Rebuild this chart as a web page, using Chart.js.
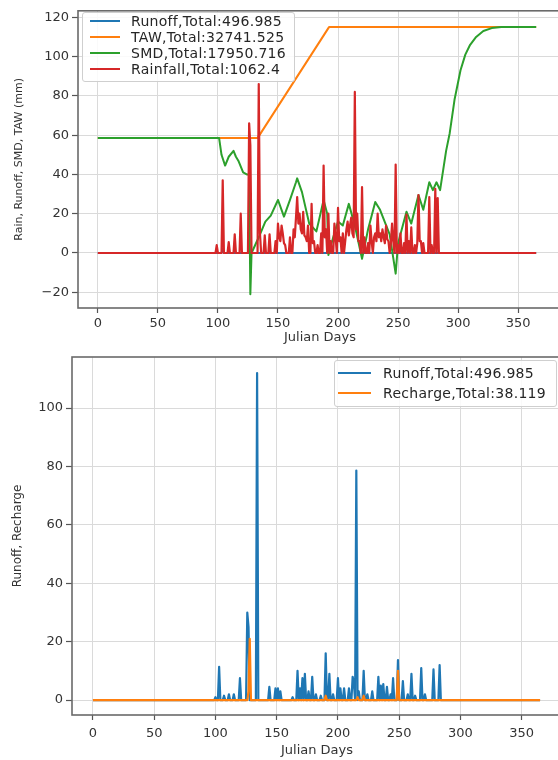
<!DOCTYPE html>
<html lang="en">
<head>
    <meta charset="UTF-8">
    <title>Soil Water Balance</title>
    <script src="https://cdn.jsdelivr.net/npm/chart.js"></script>
    <style>
        body {
            margin: 0;
            background: #fff;
            overflow: hidden;
            font-family: 'DejaVu Sans', sans-serif;
        }
        .panel {
            position: absolute;
            left: 0;
            width: 564px;
        }
        #topPanel { top: 0; height: 345px; }
        #bottomPanel { top: 345px; height: 415px; }
        .legend {
            position: absolute;
            border: 1px solid #cfcfcf;
            border-radius: 3px;
            background: rgba(255, 255, 255, 0.85);
            font-size: 14px;
            letter-spacing: 0.3px;
            color: #262626;
        }
        .legend .row {
            position: absolute;
            left: 0;
            height: 16px;
            line-height: 16px;
            white-space: nowrap;
        }
        .legend .ln {
            position: absolute;
            top: 7px;
            height: 2px;
        }
        .legend .tx { position: absolute; top: 0; }
    </style>
</head>
<body>

<div class="panel" id="topPanel"><canvas id="topChart"></canvas></div>
<div class="panel" id="bottomPanel"><canvas id="bottomChart"></canvas></div>

<div class="legend" style="left:82px; top:12px; width:211px; height:68px;">
    <div class="row" style="top:0px;"><span class="ln" style="left:7px; width:30px; background:#1f77b4;"></span><span class="tx" style="left:48px;">Runoff,Total:496.985</span></div>
    <div class="row" style="top:16px;"><span class="ln" style="left:7px; width:30px; background:#ff7f0e;"></span><span class="tx" style="left:48px;">TAW,Total:32741.525</span></div>
    <div class="row" style="top:32px;"><span class="ln" style="left:7px; width:30px; background:#2ca02c;"></span><span class="tx" style="left:48px;">SMD,Total:17950.716</span></div>
    <div class="row" style="top:48px;"><span class="ln" style="left:7px; width:30px; background:#d62728;"></span><span class="tx" style="left:48px;">Rainfall,Total:1062.4</span></div>
</div>

<div class="legend" style="left:334px; top:360px; width:221px; height:45px;">
    <div class="row" style="top:4px;"><span class="ln" style="left:3px; width:33px; background:#1f77b4;"></span><span class="tx" style="left:48px;">Runoff,Total:496.985</span></div>
    <div class="row" style="top:24px;"><span class="ln" style="left:3px; width:33px; background:#ff7f0e;"></span><span class="tx" style="left:48px;">Recharge,Total:38.119</span></div>
</div>

<script>
    // ---- data ----
    const xTicks = [0, 50, 100, 150, 200, 250, 300, 350];
    const topYTicks = [-20, 0, 20, 40, 60, 80, 100, 120];
    const bottomYTicks = [0, 20, 40, 60, 80, 100];

    // daily rainfall (mm), days not listed are dry
    const rainDays = [99, 104, 109, 114, 119, 126, 127, 134, 135, 139, 143, 148, 150, 151, 152, 153, 154, 155, 156, 160, 163, 164, 165, 166, 167, 168, 169, 170, 171, 172, 173, 174, 175, 178, 179, 180, 183, 186, 188, 189, 190, 192, 194, 197, 198, 200, 201, 202, 204, 206, 207, 208, 209, 210, 211, 212, 213, 214, 215, 216, 217, 218, 220, 222, 225, 227, 228, 230, 231, 232, 233, 234, 235, 236, 237, 238, 239, 240, 241, 242, 244, 245, 246, 248, 250, 252, 255, 257, 259, 261, 264, 266, 267, 268, 269, 271, 276, 278, 281, 283];
    const rainMm = [4, 37, 5.5, 9.5, 20, 66, 55, 86, 10, 9, 9.5, 6, 15, 8, 6, 14, 10, 5, 4, 8, 12, 8, 18, 28.5, 15, 20, 12, 10, 21, 9, 8, 6, 14, 25, 5, 6, 4, 10, 44.5, 8, 12, 20, 6, 15, 8, 23, 6, 8, 10, 6, 12, 16, 9, 14, 18, 10, 8, 82, 12, 20, 6, 6, 33.5, 8, 5, 14, 6, 8, 10, 6, 20, 8, 10, 6, 12, 8, 5, 14, 7, 6, 5, 15, 6, 45, 4, 10, 5, 19.5, 6, 13, 4, 5, 29.5, 6, 6, 5, 28.5, 4, 32.7, 28];

    // runoff as seen in the upper panel
    const runoffTopDays = [0, 103, 104, 105, 365];
    const runoffTopMm = [0, 0, 2, 0, 0];

    // total available water
    const tawDays = [0, 133, 192.5, 365];
    const tawMm = [58.5, 58.5, 115, 115];

    // soil moisture deficit
    const smdDays = [0, 101, 103, 106, 109, 113, 115, 117, 121, 124, 126, 127, 128, 134, 139.5, 144, 150, 155, 160, 165, 166, 170, 176, 182, 188, 191, 192, 196, 200, 204, 209, 214, 220, 225, 231, 235, 243, 248, 250, 257, 261, 267, 271, 276, 279, 282, 285, 290, 293, 297, 302, 306, 310, 315, 321, 328, 336, 365];
    const smdMm = [58.5, 58.5, 50, 44.5, 49, 52, 49, 47, 41, 40, 40, -21, 0, 8, 16, 19, 27, 18.5, 27, 36, 38, 31, 15, 11, 27, 20, -1, 8, 16, 14, 25, 14, -3, 12, 26, 22, 9.5, -10.5, 5, 21, 15, 29.5, 22, 36, 32, 36, 32, 52, 61, 78, 93, 101, 106, 110, 113, 114.5, 115, 115];

    // lower panel: daily runoff and recharge (mm)
    const runoffDays = [100, 103, 107, 111, 115, 120, 126, 127, 134, 144, 149, 151, 153, 163, 167, 169, 171, 173, 176, 179, 182, 186, 190, 193, 196, 200, 202, 205, 209, 212, 213, 215, 217, 221, 224, 228, 233, 235, 237, 240, 243, 245, 249, 253, 257, 260, 263, 268, 271, 278, 283];
    const runoffMm = [1, 11.4, 1.5, 2, 2, 7.5, 30, 25, 112, 4.5, 4, 4, 3, 1, 10, 4, 7.5, 9, 3, 8, 2, 1.5, 16, 9, 2, 7.5, 4, 4, 4, 8, 6, 78.6, 3, 10, 2, 3, 8, 5, 5.5, 4.5, 2, 7.5, 13.7, 6.5, 2, 9, 1.5, 11, 2, 10.5, 12];
    const rechargeDays = [127, 128, 190, 216, 221, 249];
    const rechargeMm = [3, 21, 1.5, 1, 1.5, 10];

    function daily(days, vals) {
        const pts = [];
        for (let d = 0; d <= 365; d++) {
            const i = days.indexOf(d);
            pts.push({ x: d, y: i >= 0 ? vals[i] : 0 });
        }
        return pts;
    }

    function pairs(days, vals) {
        return days.map((d, i) => ({ x: d, y: vals[i] }));
    }

    function minusLabel(v) {
        return v < 0 ? '\u2212' + Math.abs(v) : String(v);
    }

    // matplotlib-like closed frame drawn over the lines
    const framePlugin = {
        id: 'frame',
        afterDatasetsDraw(chart) {
            const a = chart.chartArea;
            const ctx = chart.ctx;
            ctx.save();
            ctx.strokeStyle = '#6a6a6a';
            ctx.lineWidth = 1.6;
            ctx.strokeRect(a.left, a.top, a.right - a.left, a.bottom - a.top);
            ctx.restore();
        }
    };

    function lineSet(label, data, color, order, width) {
        return {
            label: label, data: data, borderColor: color, backgroundColor: color,
            borderWidth: width, borderJoinStyle: 'round', pointRadius: 0, tension: 0, fill: false, order: order
        };
    }

    function axes(opts) {
        return {
            x: {
                type: 'linear', min: opts.xMin, max: opts.xMax,
                afterBuildTicks: s => { s.ticks = xTicks.map(v => ({ value: v })); },
                afterFit: s => { s.height = opts.xH; },
                grid: { color: '#dadada', lineWidth: 1, tickLength: 5, tickColor: '#555', tickWidth: 1.2 },
                border: { display: false },
                ticks: { color: '#333', font: { family: 'DejaVu Sans', size: 13 }, padding: opts.xPad, maxRotation: 0, callback: minusLabel },
                title: { display: true, text: 'Julian Days', color: '#333', font: { family: 'DejaVu Sans', size: 13 }, padding: { top: 0, bottom: opts.xTitlePad } }
            },
            y: {
                type: 'linear', min: opts.yMin, max: opts.yMax,
                afterBuildTicks: s => { s.ticks = opts.yTicks.map(v => ({ value: v })); },
                afterFit: s => { s.width = opts.yW; },
                grid: { color: '#dadada', lineWidth: 1, tickLength: 6, tickColor: '#555', tickWidth: 1.2 },
                border: { display: false },
                ticks: { color: '#333', font: { family: 'DejaVu Sans', size: 13 }, padding: 3, callback: minusLabel },
                title: { display: true, text: opts.yTitle, color: '#333', font: { family: 'DejaVu Sans', size: opts.yTitleSize }, padding: { top: opts.yTitlePad, bottom: 0 } }
            }
        };
    }

    const common = {
        responsive: true,
        maintainAspectRatio: false,
        animation: false,
        plugins: { legend: { display: false }, tooltip: { enabled: false } }
    };

    new Chart(document.getElementById('topChart'), {
        type: 'line',
        data: {
            datasets: [
                lineSet('Runoff,Total:496.985', pairs(runoffTopDays, runoffTopMm), '#1f77b4', 3, 2),
                lineSet('TAW,Total:32741.525', pairs(tawDays, tawMm), '#ff7f0e', 2, 2),
                lineSet('SMD,Total:17950.716', pairs(smdDays, smdMm), '#2ca02c', 1, 2),
                lineSet('Rainfall,Total:1062.4', daily(rainDays, rainMm), '#d62728', 0, 2.2)
            ]
        },
        options: Object.assign({}, common, {
            layout: { padding: { top: 7, right: 2, left: 0, bottom: 0 } },
            scales: axes({
                xMin: -16.5, xMax: 386.5, xH: 37, xPad: 3, xTitlePad: 0,
                yMin: -28, yMax: 123.3, yTicks: topYTicks, yW: 78,
                yTitle: 'Rain, Runoff, SMD, TAW (mm)', yTitleSize: 11, yTitlePad: 13
            })
        }),
        plugins: [framePlugin]
    });

    new Chart(document.getElementById('bottomChart'), {
        type: 'line',
        data: {
            datasets: [
                lineSet('Runoff,Total:496.985', daily(runoffDays, runoffMm), '#1f77b4', 1, 2.2),
                lineSet('Recharge,Total:38.119', daily(rechargeDays, rechargeMm), '#ff7f0e', 0, 2.2)
            ]
        },
        options: Object.assign({}, common, {
            layout: { padding: { top: 12, right: 2, left: 0, bottom: 0 } },
            scales: axes({
                xMin: -17.1, xMax: 382.9, xH: 45, xPad: 6, xTitlePad: 2,
                yMin: -5.1, yMax: 117.5, yTicks: bottomYTicks, yW: 72,
                yTitle: 'Runoff, Recharge', yTitleSize: 12, yTitlePad: 11
            })
        }),
        plugins: [framePlugin]
    });
</script>
</body>
</html>
